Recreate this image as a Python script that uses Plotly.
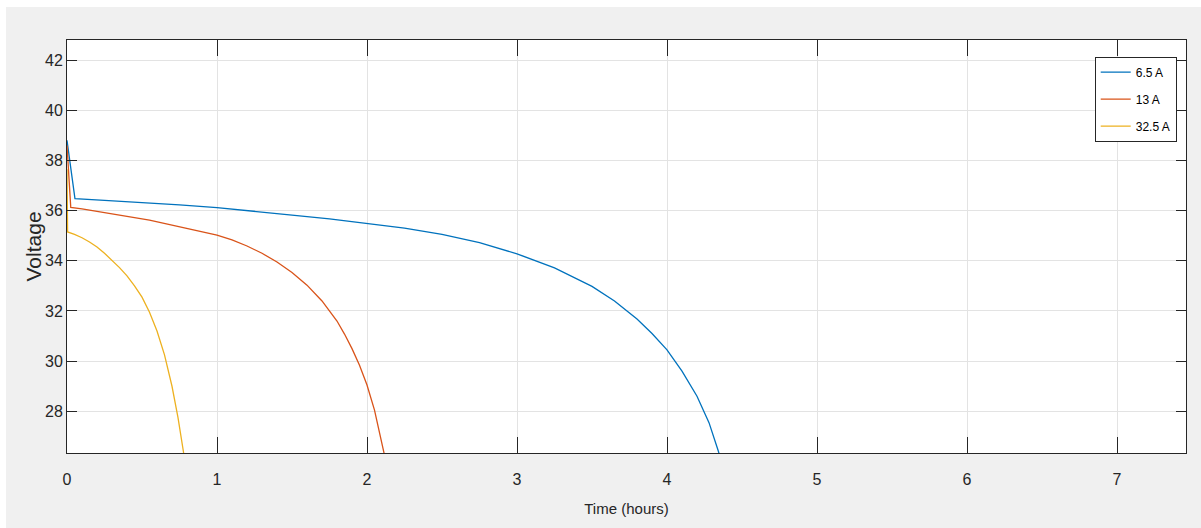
import plotly.graph_objects as go

# ---- data ----
t_65 = [0, 0.053, 0.25, 0.5, 0.75, 1.0, 1.25, 1.5, 1.75, 2.0, 2.25, 2.5, 2.75, 3.0, 3.25, 3.5,
        3.65, 3.8, 3.9, 4.0, 4.1, 4.2, 4.28, 4.342, 4.36]
v_65 = [38.8, 36.48, 36.41, 36.33, 36.23, 36.12, 35.98, 35.82, 35.67, 35.5, 35.3, 35.05, 34.72, 34.28, 33.72, 32.98,
        32.4, 31.68, 31.1, 30.45, 29.6, 28.6, 27.55, 26.42, 26.05]

t_13 = [0, 0.025, 0.1, 0.3, 0.55, 0.775, 1.0, 1.1, 1.2, 1.3, 1.4, 1.5, 1.6, 1.7, 1.8, 1.85, 1.9,
        1.95, 2.0, 2.05, 2.09, 2.115, 2.125]
v_13 = [38.6, 36.13, 36.07, 35.88, 35.62, 35.32, 35.02, 34.83, 34.59, 34.3, 33.95, 33.53, 33.03, 32.4, 31.6, 31.08, 30.5,
        29.84, 29.05, 28.05, 27.05, 26.32, 26.03]

t_325 = [0, 0.004, 0.05, 0.1, 0.15, 0.2, 0.25, 0.3, 0.35, 0.4, 0.45, 0.5, 0.55, 0.6, 0.65, 0.7, 0.74, 0.776, 0.784]
v_325 = [37.65, 35.15, 35.05, 34.92, 34.75, 34.55, 34.3, 34.02, 33.73, 33.4, 33.0, 32.55, 31.95, 31.2, 30.25, 29.0,
         27.75, 26.4, 26.05]

series_names = ["6.5 A", "13 A", "32.5 A"]
series_colors = ["#0072BD", "#D95319", "#EDB120"]

x_ticks = [0, 1, 2, 3, 4, 5, 6, 7]
y_ticks = [28, 30, 32, 34, 36, 38, 40, 42]
x_range = [0, 7.46]
y_range = [26.34, 42.8]

FONT = "Liberation Sans, Arial, Helvetica, sans-serif"
AX = "#262626"

fig = go.Figure()
for i, (t, v) in enumerate([(t_65, v_65), (t_13, v_13), (t_325, v_325)]):
    fig.add_trace(go.Scatter(
        x=t, y=v, mode="lines", name=series_names[i],
        legendgroup=series_names[i],
        line=dict(color=series_colors[i], width=1.3),
    ))

fig.update_layout(
    width=1201, height=528,
    margin=dict(l=67, r=15, t=40, b=75),
    paper_bgcolor="#f0f0f0",
    plot_bgcolor="white",
    showlegend=True,
    legend=dict(
        x=0.9917, y=0.9596, xanchor="right", yanchor="top",
        bgcolor="white", bordercolor=AX, borderwidth=1,
        font=dict(family=FONT, size=12, color="#000000"),
        tracegroupgap=8,
    ),
    shapes=[
        dict(type="rect", xref="paper", yref="paper", x0=-0.07, x1=1.05, y0=1.0799, y1=1.12,
             fillcolor="white", line=dict(width=0), layer="below"),
        dict(type="rect", xref="paper", yref="paper", x0=-0.07, x1=-0.05451, y0=-0.25, y1=1.12,
             fillcolor="white", line=dict(width=0), layer="below"),
    ],
    annotations=[
        dict(text="Voltage", xref="paper", yref="paper", x=-0.0295, y=0.5,
             xanchor="center", yanchor="middle", textangle=-90, showarrow=False,
             font=dict(family=FONT, size=21, color=AX)),
    ],
)

fig.update_xaxes(
    range=x_range, tickvals=x_ticks, ticktext=[str(v) for v in x_ticks],
    showgrid=True, gridcolor="#e3e3e3", gridwidth=1, zeroline=False,
    showline=True, linecolor=AX, linewidth=1, mirror="allticks",
    ticks="inside", ticklen=16, tickcolor=AX, tickwidth=1,
    tickfont=dict(family=FONT, size=16, color=AX),
    ticklabelstandoff=12,
    title=dict(text="Time (hours)", font=dict(family=FONT, size=15, color=AX), standoff=16),
)
fig.update_yaxes(
    range=y_range, tickvals=y_ticks, ticktext=[str(v) for v in y_ticks],
    showgrid=True, gridcolor="#e3e3e3", gridwidth=1, zeroline=False,
    showline=True, linecolor=AX, linewidth=1, mirror="allticks",
    ticks="inside", ticklen=10, tickcolor=AX, tickwidth=1,
    tickfont=dict(family=FONT, size=16, color=AX),
)

fig.write_html("out.html")
